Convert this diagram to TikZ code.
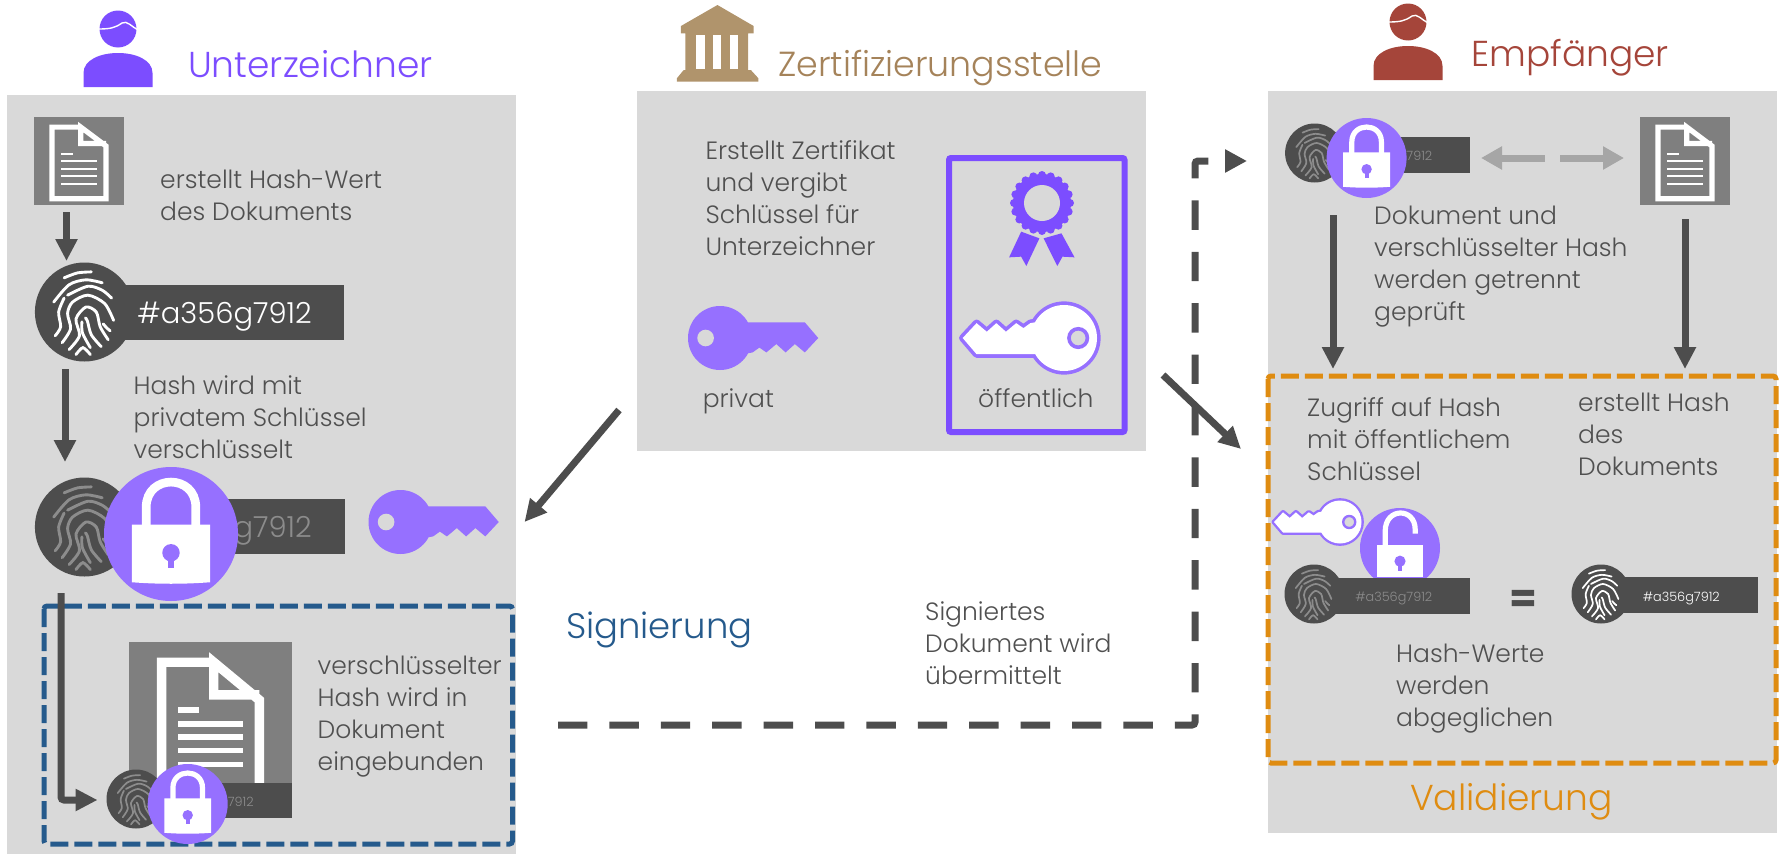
\documentclass[tikz,border=0pt]{standalone}
\usepackage{fontspec}
\setmainfont{Poppins Light}
\newfontfamily\eqf{Poppins Bold}
\usetikzlibrary{arrows.meta}
\definecolor{panelc}{HTML}{D9D9D9}
\definecolor{dk}{HTML}{4D4D4D}
\definecolor{txtc}{HTML}{505050}
\definecolor{docc}{HTML}{7F7F7F}
\definecolor{purp}{HTML}{7C4DFF}
\definecolor{lockc}{HTML}{9670FF}
\definecolor{tanc}{HTML}{B0946C}
\definecolor{tant}{HTML}{A5835A}
\definecolor{redc}{HTML}{A5453A}
\definecolor{bluec}{HTML}{255A8C}
\definecolor{orc}{HTML}{DF8C11}
\definecolor{fpg}{HTML}{8C8C8C}
\definecolor{lgr}{HTML}{A6A6A6}
\tikzset{
 panel/.style={fill=panelc,inner sep=0pt,anchor=north west},
 txt/.style={inner sep=0pt,anchor=base west,align=left,text=txtc,font=\fontsize{25}{32}\selectfont},
 head/.style={inner sep=0pt,anchor=base west,font=\fontsize{36}{42}\selectfont},
 hashbig/.style={inner sep=0pt,anchor=base east,font=\fontsize{29}{32}\selectfont},
 hashsm/.style={inner sep=0pt,anchor=base east,font=\fontsize{12.8}{15}\selectfont},
 arr/.style={draw=dk,line width=7pt,-{Triangle[length=22pt,width=21pt,fill=dk]}},
 garr/.style={draw=lgr,line width=7pt,-{Triangle[length=21pt,width=22pt,fill=lgr]}},
 box/.style={line width=5pt,dash pattern=on 18pt off 6pt,rounded corners=3pt},
}
\newcommand{\myFp}[4]{%
 \begin{scope}[shift={(#1,#2)},scale=#3]
 \pgfmathsetmacro\myw{#3*0.058}
 \fill[dk] (0,0) circle (1);
 \begin{scope}[#4,line width=\myw pt,line cap=round]
 \draw plot[smooth] coordinates {(-.41,-.69) (-.14,-.79) (.14,-.81)};
 \draw plot[smooth] coordinates {(-.62,-.2) (-.31,-.55) (.03,-.65) (.36,-.59)};
 \draw plot[smooth] coordinates {(-.34,-.34) (.07,-.52) (.36,-.44) (.55,-.28)};
 \draw plot[smooth] coordinates {(-.41,-.28) (-.52,.0) (-.48,.3) (-.59,.48)};
 \draw plot[smooth] coordinates {(-.45,.62) (-.28,.34) (-.34,.03) (-.24,-.2) (.07,-.34) (.41,-.17) (.59,.17)};
 \draw plot[smooth] coordinates {(-.31,.76) (-.1,.48) (-.17,.14) (.03,-.1) (.24,.0) (.32,.3) (.48,.56)};
 \draw plot[smooth] coordinates {(.34,.7) (.14,.46) (.06,.18) (.02,.12)};
 \draw plot[smooth] coordinates {(.12,.72) (-.04,.42) (-.05,.2)};
 \draw plot[smooth] coordinates {(.38,.24) (.45,.32) (.52,.38)};
 \draw plot[smooth] coordinates {(-.17,.86) (-.03,.72) (.12,.86)};
 \end{scope}
 \end{scope}}
\newcommand{\myLock}[3]{%
 \begin{scope}[shift={(#1,#2)},scale=#3]
 \pgfmathsetmacro\myw{#3*0.13}
 \fill[lockc] (0,0) circle (1);
 \draw[white,line width=\myw pt] (-.37,-.1) -- (-.37,-.4) .. controls (-.37,-.9) and (.37,-.9) .. (.37,-.4) -- (.37,-.1);
 \fill[white] (-.585,-.14) -- (.585,-.14) -- (.585,.72) .. controls (.2,.75) and (-.2,.75) .. (-.585,.72) -- cycle;
 \fill[lockc] (0,.28) circle (.13);
 \fill[lockc] (-.05,.28) rectangle (.05,.51);
 \end{scope}}
\newcommand{\myLockOpen}[3]{%
 \begin{scope}[shift={(#1,#2)},scale=#3]
 \pgfmathsetmacro\myw{#3*0.13}
 \fill[lockc] (0,0) circle (1);
 \draw[white,line width=\myw pt] (-.37,-.05) -- (-.37,-.42) .. controls (-.37,-1.02) and (.38,-1.02) .. (.38,-.46) -- (.38,-.36);
 \fill[white] (-.585,-.08) -- (.585,-.08) -- (.585,.72) -- (-.585,.72) -- cycle;
 \fill[lockc] (0,.33) circle (.14);
 \fill[lockc] (-.05,.33) rectangle (.05,.58);
 \end{scope}}
\newcommand{\myKeyShape}{(0,0) circle (1)
   (.75,-.49) -- (2.65,-.49) -- (3.07,0) -- (2.65,.45) -- (2.34,.19) -- (2.05,.45) -- (1.76,.19) -- (1.45,.45) -- (1.23,.3) -- (1.02,.45) -- (.75,.5) -- cycle}
\newcommand{\myKeyPriv}[3]{%
 \begin{scope}[shift={(#1,#2)},scale=#3]
 \fill[lockc] \myKeyShape;
 \fill[panelc] (-.45,0) circle (.26);
 \end{scope}}
\newcommand{\myKeyPub}[3]{%
 \begin{scope}[shift={(#1,#2)},scale=#3,rotate=180]
 \pgfmathsetmacro\myw{#3*0.22}
 \pgfmathsetmacro\myv{#3*0.11}
 \draw[lockc,line width=\myw pt,line join=round] \myKeyShape;
 \fill[white] \myKeyShape;
 \fill[panelc,draw=lockc,line width=\myv pt] (-.43,0) circle (.28);
 \end{scope}}
\newcommand{\myDoc}[8]{% name x y w h lines thickness short-y
 \node[fill=docc,inner sep=0pt,minimum width=#4pt,minimum height=#5pt,anchor=north west] (#1) at (#2,#3) {};
 \begin{scope}[shift={(#2,#3)},xscale=#4,yscale=#5]
 \pgfmathsetmacro\myw{#4*0.058}
 \draw[white,line width=\myw pt,line join=miter] (.52,.115) -- (.20,.115) -- (.20,.93) -- (.80,.93) -- (.80,.33) -- (.52,.115) -- (.52,.30) -- (.80,.30);
 \fill[white] (.30,#8) rectangle (.43,#8+#7);
 \foreach \yy in {#6}
   \fill[white] (.30,\yy) rectangle (.70,\yy+#7);
 \end{scope}}
\newcommand{\myPerson}[3]{% cx headcy color
 \begin{scope}[shift={(#1,#2)}]
 \fill[#3] (0,0) circle (18.5);
 \fill[#3] (-34.5,58) -- (-34.5,44) .. controls (-34.5,31) and (-18,24) .. (0,24) .. controls (18,24) and (34.5,31) .. (34.5,44) -- (34.5,58) -- cycle;
 \draw[white,line width=1.4pt] (-20,0) .. controls (-8,0) and (-3,-1) .. (4,-6) .. controls (9,-9) and (14,-2) .. (20,1);
 \end{scope}}
\begin{document}
\begin{tikzpicture}[x=1pt,y=-1pt]
\useasboundingbox (0,0) rectangle (1783,854);
% panels
\node[panel,minimum width=509pt,minimum height=759pt] (pL) at (7,95) {};
\node[panel,minimum width=509pt,minimum height=360pt] (pM) at (637,91) {};
\node[panel,minimum width=509pt,minimum height=742pt] (pR) at (1268,91) {};
% headers
\myPerson{118}{29}{purp}
\node[head,text=purp] (hU) at (188,77) {Unterzeichner};
\begin{scope}[shift={(620,0)},xscale=1/2.904,yscale=1/3]
 \fill[tanc] (283,15) -- (388,78) -- (388,100) -- (372,100) -- (372,210) -- (380,210) -- (402,235) -- (402,245) -- (165,245) -- (165,235) -- (185,210) -- (190,210) -- (190,100) -- (177,100) -- (177,78) -- cycle;
 \foreach \xx in {222,270,320} \fill[white] (\xx,105) rectangle (\xx+24,207);
\end{scope}
\node[head,text=tant,font=\fontsize{34.8}{42}\selectfont] (hZ) at (778,76) {Zertifizierungsstelle};
\myPerson{1408}{22}{redc}
\node[head,text=redc] (hE) at (1471,66) {Empfänger};
% left column
\myDoc{docA}{34}{117}{90}{88}{.487,.575,.663,.75}{.023}{.41}
\node[txt] (t1) at (160,220) {erstellt Hash-Wert\\des Dokuments};
\fill[dk] (100,285) rectangle (344,340);
\myFp{84.4}{312}{49.5}{white}
\node[hashbig,text=white] (h1) at (312,323) {\#a356g7912};
\coordinate (a1s) at (66.5,212); \coordinate (a1e) at (66.5,261);
\draw[arr] (a1s) -- (a1e);
\coordinate (a2s) at (65,369); \coordinate (a2e) at (65,462);
\draw[arr] (a2s) -- (a2e);
\node[txt] (t2) at (133.5,458) {Hash wird mit\\privatem Schlüssel\\verschlüsselt};
\fill[dk] (100,499) rectangle (345,554);
\myFp{84.4}{527}{49.5}{fpg}
\node[hashbig,text=fpg] (h2) at (312,537) {\#a356g7912};
\myLock{171}{534}{67}
\myKeyPriv{400.5}{522}{32}
% blue box
\draw[box,bluec] (44,606) rectangle (512.5,844);
\coordinate (a3s) at (61,593); \coordinate (a3m) at (61,800); \coordinate (a3e) at (97.5,800);
\draw[arr,rounded corners=3pt] (a3s) -- (a3m) -- (a3e);
\myDoc{docB}{129}{642}{163}{176}{.45,.525,.60,.68}{.032}{.37}
\fill[dk] (129,783) rectangle (292,818);
\myFp{136}{799}{29.5}{fpg}
\node[hashsm,text=fpg] (h3) at (254,806) {\#a356g7912};
\myLock{187.7}{804}{40}
\node[txt] (t3) at (317.5,770) {verschlüsselter\\Hash wird in\\Dokument\\eingebunden};
% middle
\node[txt] (t4) at (705.4,255) {Erstellt Zertifikat\\und vergibt\\Schlüssel für\\Unterzeichner};
\myKeyPriv{720}{338}{32}
\node[txt] (t5) at (702.6,407) {privat};
\draw[purp,line width=6pt,rounded corners=2pt] (949,158) rectangle (1124.5,432);
\begin{scope}[shift={(1042,203)}]
 \foreach \aa in {0,18,...,342} \fill[purp] (\aa:28) circle (4);
 \fill[purp] (0,0) circle (29);
 \fill[panelc] (0,0) circle (18);
\end{scope}
\begin{scope}[shift={(620,0)},xscale=1/2.904,yscale=1/3]
 \fill[purp] (1165,695) -- (1218,715) -- (1180,798) -- (1165,770) -- (1130,772) -- cycle;
 \fill[purp] (1282,700) -- (1230,715) -- (1270,798) -- (1285,770) -- (1320,772) -- cycle;
\end{scope}
\myKeyPub{1064}{338}{33}
\node[txt] (t6) at (978,407) {öffentlich};
% middle arrows
\coordinate (d1s) at (619,410); \coordinate (d1e) at (524.5,522);
\draw[arr] (d1s) -- (d1e);
\node[head,text=bluec,font=\fontsize{35.4}{42}\selectfont] (hS) at (566,638) {Signierung};
\node[txt] (t7) at (925,684) {Signiertes\\Dokument wird\\übermittelt};
\coordinate (ds) at (558,725); \coordinate (dm) at (1195,725); \coordinate (dn) at (1195,161); \coordinate (de) at (1247,161);
\draw[draw=dk,line width=7pt,dash pattern=on 29.4pt off 22pt,rounded corners=3pt,-{Triangle[length=22pt,width=22pt,fill=dk]}] (ds) -- (dm) -- (dn) -- (de);
\coordinate (d2s) at (1163,375); \coordinate (d2e) at (1241,449);
\draw[arr] (d2s) -- (d2e);
% right top
\fill[dk] (1330,137) rectangle (1470,173);
\myFp{1314.6}{153}{29.5}{fpg}
\node[hashsm,text=fpg] (h4) at (1432.5,160) {\#a356g7912};
\myLock{1366.6}{158}{40}
\myDoc{docC}{1640}{117}{90}{88}{.487,.575,.663,.75}{.023}{.41}
\coordinate (g1s) at (1544.7,158); \coordinate (g1e) at (1481,158);
\coordinate (g2s) at (1560,158); \coordinate (g2e) at (1624,158);
\draw[garr] (g1s) -- (g1e);
\draw[garr] (g2s) -- (g2e);
\node[txt] (t8) at (1374,320) {Dokument und\\verschlüsselter Hash\\werden getrennt\\geprüft};
\coordinate (a4s) at (1333,215); \coordinate (a4e) at (1333,369);
\draw[arr] (a4s) -- (a4e);
\coordinate (a5s) at (1685,219); \coordinate (a5e) at (1685,369);
\draw[arr] (a5s) -- (a5e);
% orange box
\draw[box,orc] (1268,376) rectangle (1776,763);
\node[txt] (t9) at (1307,480) {Zugriff auf Hash\\mit öffentlichem\\Schlüssel};
\node[txt] (t10) at (1578,475) {erstellt Hash\\des\\Dokuments};
\myKeyPub{1340}{522}{21.5}
\myLockOpen{1400}{548}{40}
\fill[dk] (1330,578) rectangle (1470,614);
\myFp{1314}{594}{29.5}{fpg}
\node[hashsm,text=fpg] (h5) at (1432.5,601) {\#a356g7912};
\node[inner sep=0pt,text=dk,font=\fontsize{40}{40}\eqf] (eq) at (1523.6,601) {=};
\fill[dk] (1620,577) rectangle (1758,613);
\myFp{1601}{594}{29.5}{white}
\node[hashsm,text=white] (h6) at (1720,601) {\#a356g7912};
\node[txt] (t11) at (1396,726) {Hash-Werte\\werden\\abgeglichen};
\node[head,text=orc] (hV) at (1410,810) {Validierung};
\end{tikzpicture}
\end{document}
